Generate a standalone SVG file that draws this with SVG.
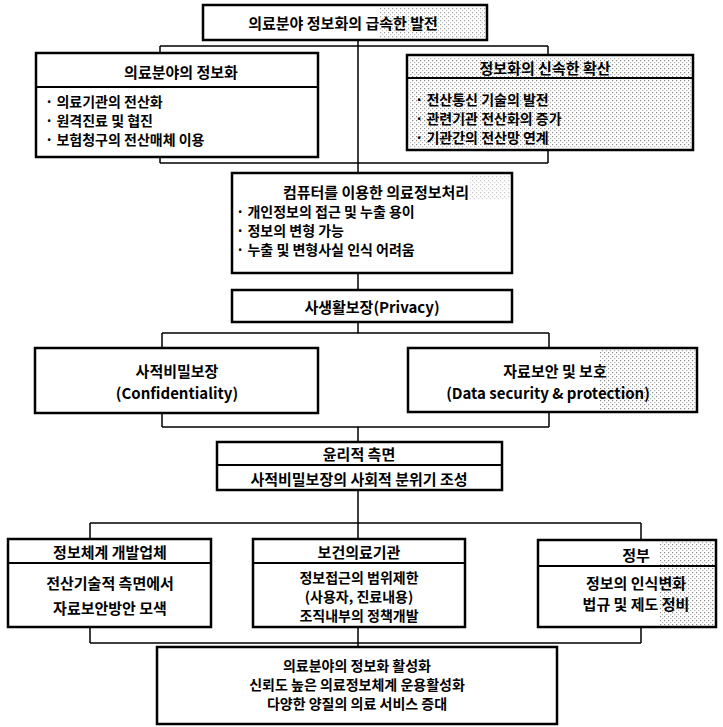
<svg xmlns="http://www.w3.org/2000/svg" width="723" height="727" viewBox="0 0 723 727">
<style>
.box{fill:#fff;stroke:#000;stroke-width:2.5}
.dv{stroke:#000;stroke-width:2}
.con{fill:none;stroke:#000;stroke-width:1.5}
.st{fill:url(#dots);stroke:none}
text{font-family:"Noto Sans CJK KR","Noto Sans",sans-serif;font-weight:bold;font-size:15px;fill:#000;dominant-baseline:central}
.c{text-anchor:middle}
.s{font-size:14px}
</style>
<defs>
<pattern id="dots" width="4" height="4" patternUnits="userSpaceOnUse">
<rect x="0" y="0" width="1.2" height="1.2" fill="#8a8a8a"/>
<rect x="2" y="2" width="1.2" height="1.2" fill="#b0b0b0"/>
</pattern>
</defs>
<g id="connectors">
<path class="con" d="M358,40 V173 M160,46 H548 M160,46 V53 M548,46 V55 M160,157 V163 M548,150 V163 M160,163 H548"/>
<path class="con" d="M358,273 V290"/>
<path class="con" d="M358,322 V333 M162,333 H549 M162,333 V348 M549,333 V348"/>
<path class="con" d="M162,413 V427 M549,412 V427 M162,427 H549 M358,427 V442"/>
<path class="con" d="M358,490 V539 M90,523 H641 M90,523 V539 M641,523 V540"/>
<path class="con" d="M90,627 V643 M641,627 V643 M90,643 H641 M358,625 V647"/>
</g>
<g id="top">
<rect class="box" x="203" y="5" width="284" height="35"/>
<rect class="st" x="380" y="7" width="105" height="31" opacity="0.8"/>
<text class="c" x="343" y="22" font-size="16px">의료분야 정보화의 급속한 발전</text>
</g>
<g id="medical-info">
<rect class="box" x="36" y="53" width="282" height="104"/>
<line class="dv" x1="36" y1="87" x2="318" y2="87"/>
<text class="c" x="181" y="71">의료분야의 정보화</text>
<text class="s" x="45" y="101">· 의료기관의 전산화</text>
<text class="s" x="45" y="120">· 원격진료 및 협진</text>
<text class="s" x="45" y="139">· 보험청구의 전산매체 이용</text>
</g>
<g id="spread">
<rect class="box" x="407" y="55" width="286" height="95"/>
<rect class="st" x="409" y="57" width="282" height="91"/>
<line class="dv" x1="407" y1="78" x2="693" y2="78"/>
<text class="c" x="545" y="67">정보화의 신속한 확산</text>
<text class="s" x="415" y="99">· 전산통신 기술의 발전</text>
<text class="s" x="415" y="118">· 관련기관 전산화의 증가</text>
<text class="s" x="415" y="137">· 기관간의 전산망 연계</text>
</g>
<g id="computer">
<rect class="box" x="232" y="173" width="280" height="100"/>
<rect class="st" x="470" y="175" width="40" height="25" opacity="0.5"/>
<text class="c" x="376" y="191">컴퓨터를 이용한 의료정보처리</text>
<text class="s" x="236" y="211">· 개인정보의 접근 및 누출 용이</text>
<text class="s" x="236" y="230">· 정보의 변형 가능</text>
<text class="s" x="236" y="249">· 누출 및 변형사실 인식 어려움</text>
</g>
<g id="privacy">
<rect class="box" x="232" y="290" width="280" height="32"/>
<text class="c" x="372" y="306">사생활보장(Privacy)</text>
</g>
<g id="confidentiality">
<rect class="box" x="35" y="348" width="283" height="65"/>
<text class="c" x="177" y="370">사적비밀보장</text>
<text class="c" x="177" y="392">(Confidentiality)</text>
</g>
<g id="data-security">
<rect class="box" x="408" y="348" width="289" height="64"/>
<rect class="st" x="600" y="350" width="95" height="60"/>
<text class="c" x="555" y="370">자료보안 및 보호</text>
<text class="c" x="548" y="392">(Data security &amp; protection)</text>
</g>
<g id="ethics">
<rect class="box" x="217" y="442" width="285" height="48"/>
<line class="dv" x1="217" y1="465" x2="502" y2="465"/>
<text class="c" x="359" y="453">윤리적 측면</text>
<text class="c" x="359" y="478">사적비밀보장의 사회적 분위기 조성</text>
</g>
<g id="developer">
<rect class="box" x="8" y="539" width="203" height="88"/>
<line class="dv" x1="8" y1="563" x2="211" y2="563"/>
<text class="c" x="110" y="551">정보체계 개발업체</text>
<text class="c" x="110" y="582">전산기술적 측면에서</text>
<text class="c" x="110" y="607">자료보안방안 모색</text>
</g>
<g id="hospital">
<rect class="box" x="253" y="539" width="212" height="88"/>
<line class="dv" x1="253" y1="563" x2="465" y2="563"/>
<text class="c" x="359" y="551">보건의료기관</text>
<text class="c s" x="359" y="577">정보접근의 범위제한</text>
<text class="c s" x="359" y="596">(사용자, 진료내용)</text>
<text class="c s" x="359" y="615">조직내부의 정책개발</text>
</g>
<g id="government">
<rect class="box" x="538" y="540" width="178" height="87"/>
<rect class="st" x="660" y="542" width="54" height="83"/>
<line class="dv" x1="538" y1="566" x2="716" y2="566"/>
<text class="c" x="636" y="554">정부</text>
<text class="c" x="636" y="582">정보의 인식변화</text>
<text class="c" x="636" y="603">법규 및 제도 정비</text>
</g>
<g id="result">
<rect class="box" x="157" y="647" width="400" height="77"/>
<text class="c s" x="357" y="665">의료분야의 정보화 활성화</text>
<text class="c s" x="357" y="684">신뢰도 높은 의료정보체계 운용활성화</text>
<text class="c s" x="357" y="703">다양한 양질의 의료 서비스 증대</text>
</g>
</svg>
